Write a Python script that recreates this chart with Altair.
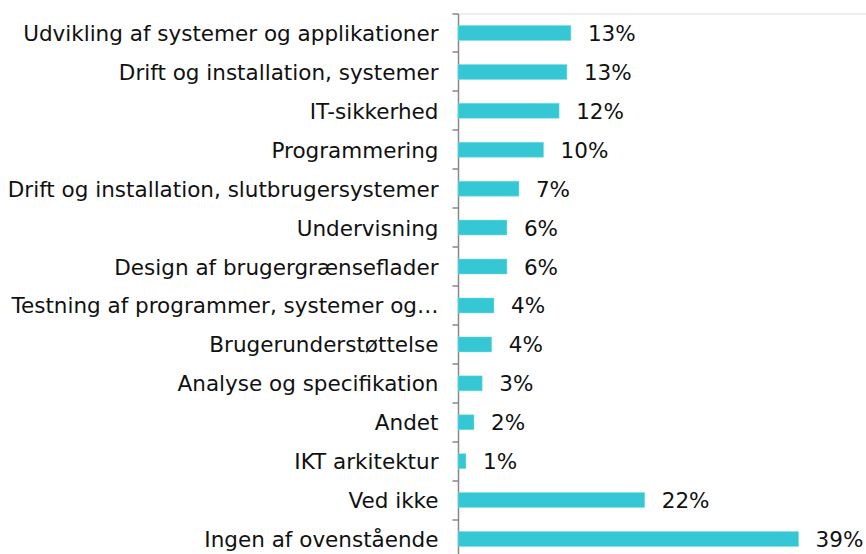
import altair as alt
import pandas as pd

categories = [
    "Udvikling af systemer og applikationer",
    "Drift og installation, systemer",
    "IT-sikkerhed",
    "Programmering",
    "Drift og installation, slutbrugersystemer",
    "Undervisning",
    "Design af brugergrænseflader",
    "Testning af programmer, systemer og…",
    "Brugerunderstøttelse",
    "Analyse og specifikation",
    "Andet",
    "IKT arkitektur",
    "Ved ikke",
    "Ingen af ovenstående",
]
values = [13.06, 12.6, 11.7, 9.9, 7.05, 5.66, 5.66, 4.16, 3.9, 2.8, 1.85, 0.92, 21.6, 39.4]
labels = [f"{round(v)}%" for v in values]

df = pd.DataFrame({"cat": categories, "val": values, "lab": labels})

FONT = "DejaVu Sans"
COLOR = "#35C7D4"
FS = 21.5

y_enc = alt.Y(
    "cat:N",
    sort=categories,
    scale=alt.Scale(paddingInner=0, paddingOuter=0),
    axis=alt.Axis(
        title=None,
        domainColor="#888888",
        domainWidth=1.5,
        tickColor="#888888",
        tickWidth=1.5,
        tickSize=6,
        bandPosition=0,
        labelFont=FONT,
        labelFontSize=FS,
        labelColor="#111111",
        labelPadding=14,
        labelOffset=2,
        labelLimit=0,
    ),
)
x_enc = alt.X("val:Q", scale=alt.Scale(domain=[0, 47.2], nice=False), axis=None)

bars = alt.Chart(df).mark_bar(color=COLOR, stroke="#7fdde5", strokeWidth=0.5, size=15).encode(y=y_enc, x=x_enc)
text = alt.Chart(df).mark_text(
    align="left", baseline="middle", dx=17, dy=2, font=FONT, fontSize=FS, color="#111111"
).encode(y=alt.Y("cat:N", sort=categories), x="val:Q", text="lab:N")

chart = (
    alt.layer(bars, text)
    .properties(
        width=408,
        height=545,
        autosize=alt.AutoSizeParams(type="none"),
        padding={"left": 458, "top": 13.5, "right": 0, "bottom": 0},
    )
    .configure_view(stroke=None)
    .configure(background="white")
)

chart.save("out.html", embed_options={"renderer": "svg", "actions": False})
